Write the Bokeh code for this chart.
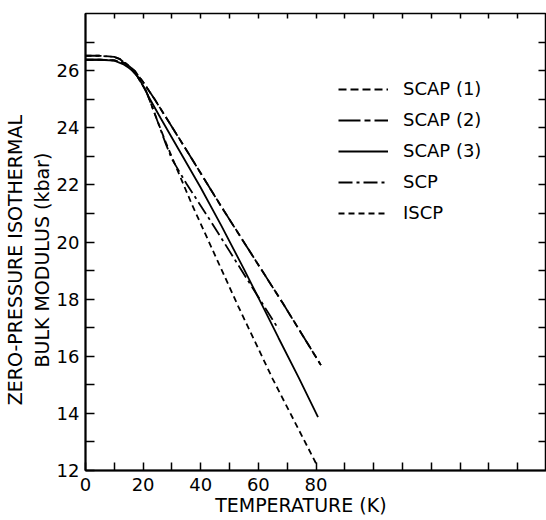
import math
from bokeh.plotting import figure
from bokeh.models import LinearAxis, FixedTicker, Legend, LegendItem, Range1d
from bokeh.embed import file_html
from bokeh.resources import INLINE

# ---- data ----
T_scap12 = [0, 5, 10, 14, 17, 20, 24.3, 33.6, 48, 68.4, 81.7]
B_scap1 = [26.38, 26.38, 26.36, 26.25, 26.0, 25.6, 24.95, 23.45, 21.1, 17.87, 15.69]
B_scap2 = [26.38, 26.38, 26.36, 26.25, 26.0, 25.6, 24.95, 23.45, 21.1, 17.87, 15.69]

T_scap3 = [0, 5, 10, 13, 15, 17, 19, 22, 26, 32.5, 40, 47, 55, 62, 67, 74, 80.7]
B_scap3 = [26.38, 26.38, 26.35, 26.23, 26.1, 25.94, 25.65, 25.07, 24.35, 23.21,
           21.9, 20.6, 19.05, 17.65, 16.64, 15.25, 13.87]

T_scp = [0, 5, 10, 12, 15, 18, 21, 24, 28, 30, 35, 43.5, 59.7, 67]
B_scp = [26.52, 26.52, 26.48, 26.4, 26.15, 25.8, 25.3, 24.5, 23.4, 22.9, 22.05,
         20.72, 18.12, 16.95]

T_iscp = [0, 5, 10, 12, 15, 18, 21, 24, 28, 37, 53, 65, 80]
B_iscp = [26.52, 26.52, 26.48, 26.4, 26.15, 25.8, 25.3, 24.5, 23.45, 21.3, 17.75,
          15.2, 12.25]

x_labeled = [0, 20, 40, 60, 80]
x_all_ticks = list(range(0, 161, 10))
y_labeled = [12, 14, 16, 18, 20, 22, 24, 26]
y_all_ticks = list(range(12, 29))

series_names = ["SCAP (1)", "SCAP (2)", "SCAP (3)", "SCP", "ISCP"]
x_title = "TEMPERATURE (K)"
y_title = ["ZERO-PRESSURE ISOTHERMAL", "BULK MODULUS (kbar)"]

FONT = "DejaVu Sans"
NB = "\u00a0"

p = figure(width=546, height=520, x_range=Range1d(0, 160), y_range=Range1d(12, 28),
           output_backend="svg", toolbar_location=None,
           min_border_left=85, min_border_right=0, min_border_top=13,
           min_border_bottom=50)
p.xgrid.visible = False
p.ygrid.visible = False
p.outline_line_color = "black"
p.outline_line_width = 1.5
p.background_fill_color = "white"
p.border_fill_color = "white"

x_minor = [t for t in x_all_ticks if t not in x_labeled]
y_minor = [t for t in y_all_ticks if t not in y_labeled and t != 28]

# bottom axis
xa = p.xaxis[0]
xa.ticker = FixedTicker(ticks=x_labeled, minor_ticks=x_minor)
xa.major_tick_in = 8
xa.major_tick_out = 0
xa.minor_tick_in = 8
xa.minor_tick_out = 0
xa.major_tick_line_width = 1.5
xa.minor_tick_line_width = 1.5
xa.minor_tick_line_color = "black"
xa.axis_line_width = 2
xa.major_label_text_font = FONT
xa.major_label_text_font_size = "18px"
xa.major_label_text_color = "black"
xa.major_label_standoff = 7
xa.axis_label = x_title + NB * 5
xa.axis_label_text_font = FONT
xa.axis_label_text_font_style = "normal"
xa.axis_label_text_font_size = "19px"
xa.axis_label_text_color = "black"
xa.axis_label_standoff = 0

# left axis
ya = p.yaxis[0]
ya.ticker = FixedTicker(ticks=y_labeled, minor_ticks=y_minor)
ya.major_tick_in = 9
ya.major_tick_out = 0
ya.minor_tick_in = 9
ya.minor_tick_out = 0
ya.major_tick_line_width = 1.5
ya.minor_tick_line_width = 1.5
ya.minor_tick_line_color = "black"
ya.axis_line_width = 2
ya.major_label_text_font = FONT
ya.major_label_text_font_size = "18px"
ya.major_label_text_color = "black"
ya.major_label_standoff = 6
ya.axis_label = "\n".join(s + NB * 6 for s in y_title)
ya.axis_label_text_font = FONT
ya.axis_label_text_font_style = "normal"
ya.axis_label_text_font_size = "19px"
ya.axis_label_text_color = "black"
ya.axis_label_standoff = 1

# top and right axes (inward ticks only, no labels)
top = LinearAxis(ticker=FixedTicker(ticks=[], minor_ticks=x_all_ticks[1:-1]),
                 minor_tick_in=5, minor_tick_out=0, minor_tick_line_color="black",
                 minor_tick_line_width=1.5, major_tick_line_color=None,
                 axis_line_color=None, major_label_standoff=0, axis_label_standoff=0)
p.add_layout(top, "above")
right = LinearAxis(ticker=FixedTicker(ticks=[], minor_ticks=y_all_ticks[1:-1]),
                   minor_tick_in=8, minor_tick_out=0, minor_tick_line_color="black",
                   minor_tick_line_width=1.5, major_tick_line_color=None,
                   axis_line_color=None, major_label_standoff=0, axis_label_standoff=0)
p.add_layout(right, "right")

LW = 1.8
r1 = p.line(T_scap12, B_scap1, line_color="black", line_width=LW, line_dash="8 4")
r2 = p.line(T_scap12, B_scap2, line_color="black", line_width=LW, line_dash="22 4 6 4")
r3 = p.line(T_scap3, B_scap3, line_color="black", line_width=LW)
r4 = p.line(T_scp, B_scp, line_color="black", line_width=LW, line_dash="14 4 3 4")
r5 = p.line(T_iscp, B_iscp, line_color="black", line_width=LW, line_dash="6 4")

legend = Legend(items=[LegendItem(label=n, renderers=[r]) for n, r in
                       zip(series_names, [r1, r2, r3, r4, r5])],
                location=(253, 247), glyph_width=50, glyph_height=20, label_height=20,
                spacing=10, padding=0, margin=0, label_standoff=15,
                label_text_font=FONT, label_text_font_size="18px",
                label_text_color="black",
                border_line_color=None, background_fill_alpha=0)
p.add_layout(legend, "center")

open("out.html", "w").write(file_html(p, INLINE))
